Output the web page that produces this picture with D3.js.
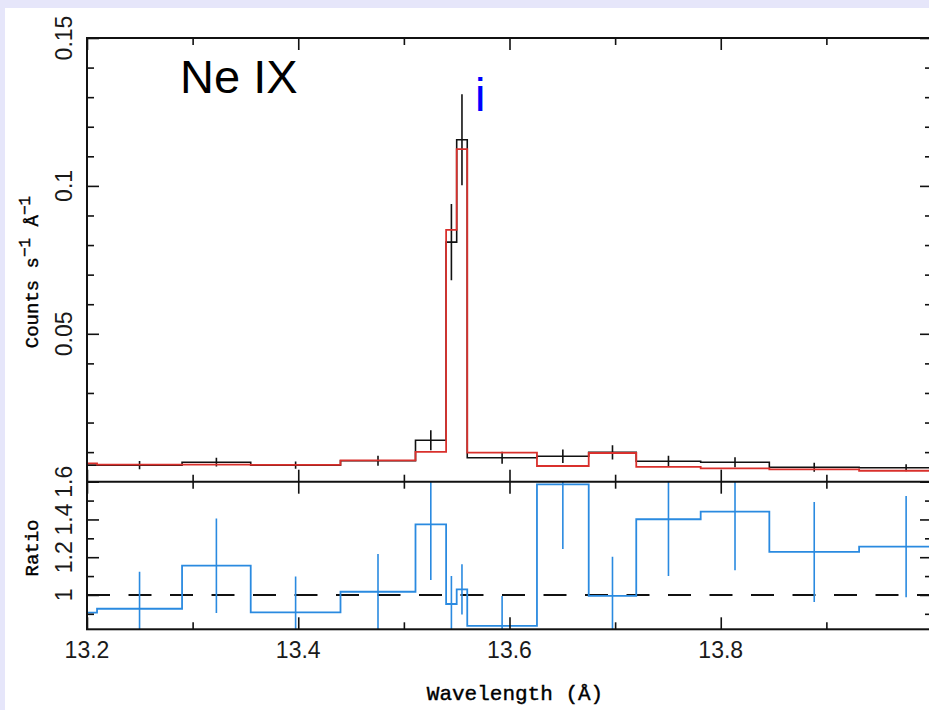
<!DOCTYPE html>
<html>
<head>
<meta charset="utf-8">
<script src="https://cdn.jsdelivr.net/npm/d3@7"></script>
<style>
  html, body { margin: 0; padding: 0; background: #e6e6fa; }
  svg { display: block; }
</style>
</head>
<body>
<svg id="chart" width="929" height="710"></svg>
<script>
// ---------- DATA ----------
const binEdges = [13.18, 13.2095, 13.290, 13.355, 13.440, 13.511, 13.540, 13.550, 13.560, 13.626, 13.675, 13.720, 13.781, 13.846, 13.931, 14.020];
const dataCounts = [0.0056, 0.0056, 0.0066, 0.0056, 0.0071, 0.0140, 0.0810, 0.1156, 0.0081, 0.0086, 0.0099, 0.0069, 0.0066, 0.0049, 0.0047];
const dataErr    = [0.0013, 0.0014, 0.0015, 0.0012, 0.0017, 0.0034, 0.0129, 0.0154, 0.0020, 0.0023, 0.0024, 0.0019, 0.0017, 0.0015, 0.0012];
const modelCounts = [0.0062, 0.0058, 0.0058, 0.0057, 0.0072, 0.0101, 0.0851, 0.1124, 0.0098, 0.0053, 0.0097, 0.0050, 0.0045, 0.0042, 0.0037];
const ratioValues = [0.906, 0.927, 1.155, 0.908, 1.017, 1.374, 0.952, 1.030, 0.836, 1.586, 0.995, 1.401, 1.441, 1.228, 1.256];
const ratioErr    = [0.200, 0.196, 0.250, 0.190, 0.200, 0.295, 0.148, 0.133, 0.159, 0.342, 0.208, 0.300, 0.310, 0.265, 0.268];

const xTickLabels = [13.2, 13.4, 13.6, 13.8];
const topTickLabels = [0.05, 0.1, 0.15];
const ratioTickLabels = [1, 1.2, 1.4, 1.6];
const lineLabel = "Ne IX";
const markerLabel = "i";

// ---------- LAYOUT ----------
const W = 929, H = 710;
const L = 87, R = 932, T = 38, MID = 481.7, B = 629.3;

const svg = d3.select("#chart");
svg.append("rect").attr("x", 0).attr("y", 0).attr("width", W).attr("height", H).attr("fill", "#e6e6fa");
svg.append("rect").attr("x", 5).attr("y", 8).attr("width", W - 5).attr("height", H - 8).attr("fill", "#ffffff");

const x = d3.scaleLinear().domain([13.2, 14.0]).range([L, R]);
const yTop = d3.scaleLinear().domain([0, 0.15]).range([MID, T]);
const yRat = d3.scaleLinear().domain([0.818, 1.6]).range([B, MID]);

const defs = svg.append("defs");
defs.append("clipPath").attr("id", "clipTop").append("rect")
  .attr("x", L).attr("y", T).attr("width", R - L).attr("height", MID - T);
defs.append("clipPath").attr("id", "clipRat").append("rect")
  .attr("x", L).attr("y", MID).attr("width", R - L).attr("height", B - MID);

function stepPoints(vals) {
  const pts = vals.map((v, i) => [binEdges[i], v]);
  pts.push([binEdges[binEdges.length - 1], vals[vals.length - 1]]);
  return pts;
}
const centers = binEdges.slice(0, -1).map((e, i) => (e + binEdges[i + 1]) / 2);

// ---------- TOP PANEL ----------
const gTop = svg.append("g").attr("clip-path", "url(#clipTop)");
const lineTop = d3.line().x(d => x(d[0])).y(d => yTop(d[1])).curve(d3.curveStepAfter);

gTop.append("path").datum(stepPoints(dataCounts)).attr("d", lineTop)
  .attr("fill", "none").attr("stroke", "#111").attr("stroke-width", 1.6);
gTop.selectAll("line.err").data(centers).join("line")
  .attr("x1", d => x(d)).attr("x2", d => x(d))
  .attr("y1", (d, i) => yTop(dataCounts[i] - dataErr[i]))
  .attr("y2", (d, i) => yTop(dataCounts[i] + dataErr[i]))
  .attr("stroke", "#111").attr("stroke-width", 1.6);
gTop.append("path").datum(stepPoints(modelCounts)).attr("d", lineTop)
  .attr("fill", "none").attr("stroke", "#d9302c").attr("stroke-width", 1.8);

// ---------- RATIO PANEL ----------
const gRat = svg.append("g").attr("clip-path", "url(#clipRat)");
gRat.append("line").attr("x1", L).attr("x2", R).attr("y1", yRat(1)).attr("y2", yRat(1))
  .attr("stroke", "#111").attr("stroke-width", 2).attr("stroke-dasharray", "23,18.5");
const lineRat = d3.line().x(d => x(d[0])).y(d => yRat(d[1])).curve(d3.curveStepAfter);
gRat.append("path").datum(stepPoints(ratioValues)).attr("d", lineRat)
  .attr("fill", "none").attr("stroke", "#2a8ae0").attr("stroke-width", 1.8);
gRat.selectAll("line.err").data(centers).join("line")
  .attr("x1", d => x(d)).attr("x2", d => x(d))
  .attr("y1", (d, i) => yRat(ratioValues[i] - ratioErr[i]))
  .attr("y2", (d, i) => yRat(ratioValues[i] + ratioErr[i]))
  .attr("stroke", "#2a8ae0").attr("stroke-width", 1.6);

// ---------- AXES / TICKS ----------
function ticks(axisFn, scale, values, size, tx, ty) {
  const g = svg.append("g").attr("transform", `translate(${tx},${ty})`)
    .call(axisFn(scale).tickValues(values).tickSizeInner(-size).tickSizeOuter(0).tickFormat(""));
  g.select(".domain").remove();
  g.selectAll("line").attr("stroke", "#111").attr("stroke-width", 1.6);
}
const xMajor = d3.range(13.2, 14.001, 0.2);
const xMinor = d3.range(13.3, 14.001, 0.2);
[[d3.axisTop, T], [d3.axisBottom, MID], [d3.axisTop, MID], [d3.axisBottom, B]].forEach(([fn, yy]) => {
  ticks(fn, x, xMajor, 12, 0, yy);
  ticks(fn, x, xMinor, 7, 0, yy);
});
const topMajor = [0, 0.05, 0.1, 0.15];
const topMinor = d3.range(0.01, 0.15, 0.01).filter(v => Math.abs(v / 0.05 - Math.round(v / 0.05)) > 1e-6);
ticks(d3.axisLeft, yTop, topMajor, 12, L, 0);
ticks(d3.axisLeft, yTop, topMinor, 7, L, 0);
ticks(d3.axisRight, yTop, topMajor, 12, R, 0);
ticks(d3.axisRight, yTop, topMinor, 7, R, 0);
const ratMajor = [1, 1.2, 1.4, 1.6];
const ratMinor = [0.9, 1.1, 1.3, 1.5];
ticks(d3.axisLeft, yRat, ratMajor, 12, L, 0);
ticks(d3.axisLeft, yRat, ratMinor, 7, L, 0);
ticks(d3.axisRight, yRat, ratMajor, 12, R, 0);
ticks(d3.axisRight, yRat, ratMinor, 7, R, 0);

// frame
svg.append("rect").attr("x", L).attr("y", T).attr("width", R - L).attr("height", B - T)
  .attr("fill", "none").attr("stroke", "#111").attr("stroke-width", 2);
svg.append("line").attr("x1", L).attr("x2", R).attr("y1", MID).attr("y2", MID)
  .attr("stroke", "#111").attr("stroke-width", 2);

// ---------- LABELS ----------
const sans = "'Liberation Sans', Arial, Helvetica, sans-serif";
const mono = "'Liberation Mono', 'Courier New', monospace";
const fmt = d3.format("~g");

svg.selectAll("text.xt").data(xTickLabels).join("text")
  .attr("x", d => x(d)).attr("y", 658).attr("text-anchor", "middle")
  .attr("font-family", sans).attr("font-size", 23).attr("fill", "#1a1a1a").text(d => fmt(d));

svg.selectAll("text.yt").data(topTickLabels).join("text")
  .attr("transform", d => `translate(72,${yTop(d)}) rotate(-90)`).attr("text-anchor", "middle")
  .attr("font-family", sans).attr("font-size", 23).attr("fill", "#1a1a1a").text(d => fmt(d));

svg.selectAll("text.rt").data(ratioTickLabels).join("text")
  .attr("transform", d => `translate(72,${yRat(d)}) rotate(-90)`).attr("text-anchor", "middle")
  .attr("font-family", sans).attr("font-size", 23).attr("fill", "#1a1a1a").text(d => fmt(d));

svg.append("text").attr("x", 180).attr("y", 93)
  .attr("font-family", sans).attr("font-size", 47).attr("fill", "#000").text(lineLabel);
svg.append("text").attr("x", 475).attr("y", 111)
  .attr("font-family", sans).attr("font-size", 47).attr("fill", "#0000ff").text(markerLabel);

const yt = svg.append("text").attr("transform", "translate(38,272) rotate(-90)")
  .attr("text-anchor", "middle").attr("font-family", mono)
  .attr("font-size", 19).attr("fill", "#000").attr("stroke", "#000").attr("stroke-width", 0.4);
yt.append("tspan").text("Counts s");
yt.append("tspan").attr("dy", -8).attr("font-size", 16).text("−1");
yt.append("tspan").attr("dy", 8).text(" Å");
yt.append("tspan").attr("dy", -8).attr("font-size", 16).text("−1");

svg.append("text").attr("transform", "translate(38,548) rotate(-90)")
  .attr("text-anchor", "middle").attr("font-family", mono)
  .attr("stroke", "#000").attr("stroke-width", 0.4)
  .attr("font-size", 19).attr("fill", "#000").text("Ratio");

svg.append("text").attr("x", 515).attr("y", 700).attr("text-anchor", "middle")
  .attr("font-family", mono).attr("stroke", "#000").attr("stroke-width", 0.4)
  .attr("font-size", 21).attr("fill", "#000").text("Wavelength (Å)");
</script>
</body>
</html>
